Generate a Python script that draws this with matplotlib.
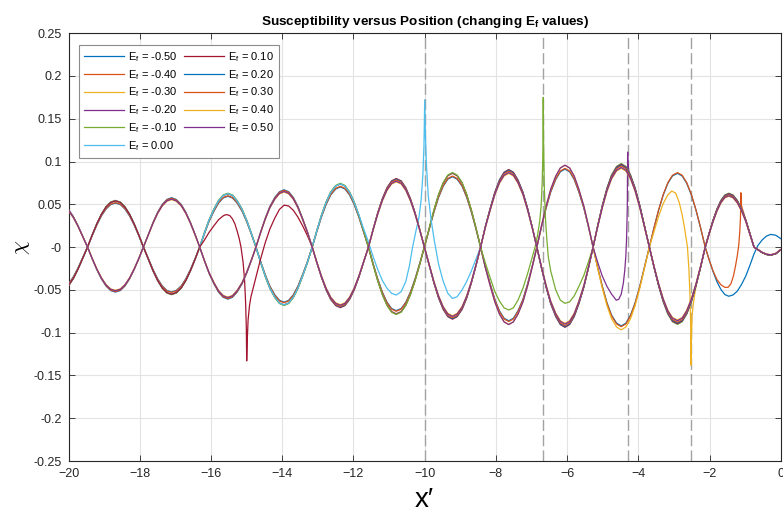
import numpy as np
import matplotlib.pyplot as plt
from matplotlib.ticker import FuncFormatter

plt.rcParams['font.family'] = ['Liberation Sans', 'DejaVu Sans']
plt.rcParams['mathtext.fontset'] = 'custom'
plt.rcParams['mathtext.rm'] = 'Liberation Sans'
plt.rcParams['mathtext.it'] = 'Liberation Sans:italic'
plt.rcParams['mathtext.bf'] = 'Liberation Sans:bold'

# Fermi energies, one curve each
ef_labels = ['-0.50', '-0.40', '-0.30', '-0.20', '-0.10', '0.00',
             '0.10', '0.20', '0.30', '0.40', '0.50']
colors = ['#0072BD', '#D95319', '#EDB120', '#7E2F8E', '#77AC30', '#4DBEEE',
          '#A2142F', '#0072BD', '#D95319', '#EDB120', '#7E2F8E']
# relative amplitude of each curve inside its branch
amp = [0.99, 1.0, 1.04, 1.04, 1.05, 1.04, 1.04, 1.03, 1.02, 0.99, 1.0]

# sampled positions x'
x_grid = [-20.00, -19.87, -19.74, -19.61,
          -19.47, -19.34, -19.21, -19.08, -18.95, -18.82, -18.69, -18.55, -18.42, -18.29, -18.16, -18.03,
          -17.90, -17.76, -17.63, -17.50, -17.37, -17.24, -17.11, -16.98, -16.84, -16.71, -16.58, -16.45,
          -16.32, -16.19, -16.06, -15.92, -15.79, -15.66, -15.53, -15.40, -15.27, -15.13, -15.00, -14.87,
          -14.74, -14.61, -14.48, -14.35, -14.21, -14.08, -13.95, -13.82, -13.69, -13.56, -13.43, -13.29,
          -13.16, -13.03, -12.90, -12.77, -12.64, -12.50, -12.37, -12.24, -12.11, -11.98, -11.85, -11.72,
          -11.58, -11.45, -11.32, -11.19, -11.06, -10.93, -10.80, -10.66, -10.53, -10.40, -10.27, -10.14,
          -10.01, -9.87, -9.74, -9.61, -9.48, -9.35, -9.22, -9.09, -8.95, -8.82, -8.69, -8.56,
          -8.43, -8.30, -8.16, -8.03, -7.90, -7.77, -7.64, -7.51, -7.38, -7.24, -7.11, -6.98,
          -6.85, -6.72, -6.59, -6.46, -6.32, -6.19, -6.06, -5.93, -5.80, -5.67, -5.53, -5.40,
          -5.27, -5.14, -5.01, -4.88, -4.75, -4.61, -4.48, -4.35, -4.22, -4.09, -3.96, -3.83,
          -3.69, -3.56, -3.43, -3.30, -3.17, -3.04, -2.90, -2.77, -2.64, -2.51, -2.38, -2.25,
          -2.12,
          -2.01, -1.90, -1.79, -1.68, -1.57, -1.46, -1.34, -1.22, -1.10, -0.98, -0.87, -0.75,
          -0.64, -0.52, -0.40, -0.28, -0.14, 0.00]

# branch on the right of the singular point
chi_after = [0.0425, 0.0347, 0.0245, 0.0127,
             0.0, -0.0132, -0.0255, -0.0361, -0.0442, -0.0493, -0.051, -0.0493, -0.0442, -0.0361, -0.0255, -0.0132,
             0.0, 0.0145, 0.028, 0.0396, 0.0485, 0.0541, 0.056, 0.0541, 0.0485, 0.0396, 0.028, 0.0145,
             0.0, -0.0153, -0.0295, -0.0417, -0.0511, -0.057, -0.059, -0.057, -0.0511, -0.0417, -0.0295, -0.0153,
             0.0, 0.0168, 0.0325, 0.046, 0.0563, 0.0628, 0.065, 0.0628, 0.0563, 0.046, 0.0325, 0.0168,
             0.0, -0.0176, -0.034, -0.0481, -0.0589, -0.0657, -0.068, -0.0657, -0.0589, -0.0481, -0.034, -0.0176,
             0.0, 0.0199, 0.0385, 0.0544, 0.0667, 0.0744, 0.077, 0.0744, 0.0667, 0.0544, 0.0385, 0.0199,
             0.0, -0.021, -0.0405, -0.0573, -0.0701, -0.0782, -0.081, -0.0782, -0.0701, -0.0573, -0.0405, -0.021,
             0.0, 0.0225, 0.0435, 0.0615, 0.0753, 0.084, 0.087, 0.084, 0.0753, 0.0615, 0.0435, 0.0225,
             0.0, -0.0233, -0.045, -0.0636, -0.0779, -0.0869, -0.090, -0.0869, -0.0779, -0.0636, -0.045, -0.0233,
             0.0, 0.0241, 0.0465, 0.0658, 0.0805, 0.0898, 0.093, 0.0898, 0.0805, 0.0658, 0.0465, 0.0241,
             0.0, -0.0223, -0.043, -0.0608, -0.0745, -0.0831, -0.086, -0.0831, -0.0745, -0.0608, -0.043, -0.0223,
             0.0,
             0.0155, 0.030, 0.0424, 0.052, 0.058, 0.060, 0.058, 0.052, 0.0424, 0.030, 0.0155, 0.0,
             -0.003, -0.0062, -0.0083, -0.009, -0.0075, -0.003]

# branch on the left of the singular point
chi_before = [-0.043, -0.0352, -0.0249, -0.0129,
              0.0, 0.0135, 0.026, 0.0368, 0.045, 0.0502, 0.052, 0.0502, 0.045, 0.0368, 0.026, 0.0135,
              0.0, -0.0137, -0.0265, -0.0375, -0.0459, -0.0512, -0.053, -0.0512, -0.0459, -0.0375, -0.0265, -0.0137,
              0.0, 0.0155, 0.030, 0.0424, 0.052, 0.058, 0.060, 0.058, 0.052, 0.0424, 0.030, 0.0155,
              0.0, -0.0168, -0.0325, -0.046, -0.0563, -0.0628, -0.065, -0.0628, -0.0563, -0.046, -0.0325, -0.0168,
              0.0, 0.0184, 0.0355, 0.0502, 0.0615, 0.0686, 0.071, 0.0686, 0.0615, 0.0502, 0.0355, 0.0184,
              0.0, -0.0194, -0.0375, -0.053, -0.065, -0.0725, -0.075, -0.0725, -0.065, -0.053, -0.0375, -0.0194,
              0.0, 0.0215, 0.0415, 0.0587, 0.0719, 0.0802, 0.083, 0.0802, 0.0719, 0.0587, 0.0415, 0.0215,
              0.0, -0.0225, -0.0435, -0.0615, -0.0753, -0.084, -0.087, -0.084, -0.0753, -0.0615, -0.0435, -0.0225,
              0.0, 0.0238, 0.046, 0.065, 0.0797, 0.0889, 0.092, 0.0889, 0.0797, 0.065, 0.046, 0.0238,
              0.0, -0.0241, -0.0465, -0.0658, -0.0805, -0.0898, -0.093, -0.0898, -0.0805, -0.0658, -0.0465, -0.0241,
              0.0, 0.0225, 0.0435, 0.0615, 0.0753, 0.084, 0.087, 0.084, 0.0753, 0.0615, 0.0435, 0.0225,
              0.0,
              -0.015, -0.029, -0.041, -0.050, -0.056, -0.058, -0.0565, -0.052, -0.044, -0.034, -0.022, -0.008,
              0.002, 0.0085, 0.013, 0.015, 0.014, 0.010]

# samples around each singular point
near_x = {
    '0.10': [-16.32, -16.19, -16.06, -15.92, -15.79, -15.66, -15.58, -15.48, -15.40, -15.33,
             -15.27, -15.21, -15.16, -15.10, -15.06, -15.03, -15.01, -15.00, -14.98, -14.96,
             -14.92, -14.88, -14.80, -14.69, -14.61, -14.48, -14.35, -14.21, -14.08, -13.95,
             -13.82, -13.69, -13.56, -13.43, -13.29, -13.16],
    '0.00': [-11.85, -11.72, -11.58, -11.45, -11.32, -11.19, -11.06, -10.93, -10.80, -10.66,
             -10.53, -10.43, -10.34, -10.25, -10.16, -10.10, -10.05, -10.02, -10.00, -9.98,
             -9.95, -9.90, -9.82, -9.74, -9.61, -9.48, -9.35, -9.22, -9.09, -8.95,
             -8.82, -8.69, -8.56, -8.43],
    '-0.10': [-8.43, -8.30, -8.16, -8.03, -7.90, -7.77, -7.64, -7.51, -7.38, -7.24,
              -7.11, -6.98, -6.90, -6.83, -6.77, -6.73, -6.70, -6.68, -6.67, -6.66,
              -6.64, -6.61, -6.58, -6.53, -6.46, -6.32, -6.19, -6.06, -5.93, -5.80,
              -5.67, -5.53, -5.40, -5.27],
    '-0.20': [-5.27, -5.14, -5.01, -4.88, -4.75, -4.62, -4.55, -4.48, -4.42, -4.38,
              -4.35, -4.33, -4.31, -4.30, -4.29, -4.27, -4.22],
    '-0.30': [-3.69, -3.56, -3.43, -3.30, -3.17, -3.06, -2.95, -2.85, -2.77, -2.70,
              -2.65, -2.62, -2.58, -2.55, -2.53, -2.52, -2.51, -2.49, -2.46, -2.42, -2.38],
    '-0.40': [-2.12, -2.01, -1.90, -1.79, -1.68, -1.57, -1.48, -1.40, -1.33, -1.27,
              -1.22, -1.18, -1.15, -1.13, -1.12, -1.11, -1.08, -1.04, -0.98],
}
near_y = {
    '0.10': [0.0, 0.008, 0.017, 0.025, 0.032, 0.0365, 0.038, 0.037, 0.033, 0.027,
             0.019, 0.010, 0.0, -0.018, -0.038, -0.065, -0.095, -0.133, -0.105, -0.085,
             -0.068, -0.058, -0.045, -0.027, -0.014, 0.005, 0.021, 0.034, 0.044, 0.049,
             0.048, 0.043, 0.035, 0.025, 0.013, 0.0],
    '0.00': [0.038, 0.022, 0.006, -0.011, -0.026, -0.039, -0.048, -0.054, -0.056, -0.052,
             -0.040, -0.022, 0.0, 0.018, 0.035, 0.055, 0.085, 0.12, 0.172, 0.13,
             0.095, 0.060, 0.032, 0.010, -0.020, -0.040, -0.054, -0.060, -0.058, -0.050,
             -0.040, -0.028, -0.014, 0.0],
    '-0.10': [0.0, -0.018, -0.036, -0.052, -0.063, -0.071, -0.0735, -0.071, -0.062, -0.048,
              -0.031, -0.012, 0.0, 0.014, 0.030, 0.048, 0.075, 0.11, 0.175, 0.12,
              0.07, 0.035, 0.015, -0.011, -0.028, -0.050, -0.062, -0.0657, -0.064, -0.057,
              -0.046, -0.033, -0.017, 0.0],
    '-0.20': [0.0, -0.018, -0.034, -0.046, -0.055, -0.062, -0.061, -0.055, -0.042, -0.027,
              -0.010, 0.010, 0.045, 0.111, 0.098, 0.090, 0.082],
    '-0.30': [0.0, 0.018, 0.036, 0.051, 0.061, 0.0655, 0.063, 0.052, 0.038, 0.022,
              0.008, 0.0, -0.025, -0.055, -0.09, -0.138, -0.11, -0.080, -0.068, -0.056, -0.046],
    '-0.40': [0.0, -0.015, -0.028, -0.038, -0.044, -0.047, -0.047, -0.043, -0.034, -0.022,
              -0.010, 0.002, 0.018, 0.035, 0.0635, 0.050, 0.045, 0.040, 0.031],
}

# dashed markers
x_marks = [-10.0, -6.67, -4.30, -2.52]

fig = plt.figure(figsize=(7.83, 5.19), dpi=100)
ax = fig.add_axes([0.0877, 0.1116, 0.9094, 0.8246])

xg = np.array(x_grid)
for i, lab in enumerate(ef_labels):
    a = np.array(chi_after) * amp[i]
    b = np.array(chi_before) * amp[i]
    if lab in near_x:
        sx = np.array(near_x[lab])
        sy = np.array(near_y[lab])
        m1 = xg < sx[0]
        m2 = xg > sx[-1]
        x = np.concatenate([xg[m1], sx, xg[m2]])
        y = np.concatenate([b[m1], sy, a[m2]])
    elif lab == '-0.50':
        x, y = xg, b
    else:
        x, y = xg, a
    ax.plot(x, y, color=colors[i], lw=0.9, label='E$_\\mathrm{f}$ = ' + lab, zorder=3)

for xm in x_marks:
    ax.axvline(xm, color='#a3a3a3', lw=1.0, ls=(0, (8, 3)), zorder=2.5)

ax.set_xlim(-20, 0)
ax.set_ylim(-0.25, 0.25)
ax.set_xticks(np.arange(-20, 1, 2))
ax.set_yticks(np.arange(-0.25, 0.26, 0.05))
ax.yaxis.set_major_formatter(FuncFormatter(lambda v, p: '%g' % round(v, 2)))
ax.grid(True, color='#e3e3e3', lw=0.8)
ax.set_axisbelow(True)
ax.tick_params(direction='in', top=True, right=True, length=4, width=0.6,
               labelsize=9, colors='#262626', pad=5)
for s in ax.spines.values():
    s.set_color('#262626')
    s.set_linewidth(0.8)

ax.set_title('Susceptibility versus Position (changing E$_\\mathbf{f}$ values)',
             fontsize=9.7, fontweight='bold', pad=6)
ax.set_xlabel('x\u2032', fontsize=20, labelpad=5)
ax.set_ylabel('$\\chi$', fontsize=16, math_fontfamily='cm', labelpad=1)

leg = ax.legend(loc='upper left', bbox_to_anchor=(0.0145, 0.972), ncol=2, fontsize=8,
                handlelength=3.6, handletextpad=0.4, columnspacing=0.5, labelspacing=0.36,
                borderpad=0.45, borderaxespad=0, fancybox=False, framealpha=1)
leg.get_frame().set_edgecolor('#8c8c8c')
leg.get_frame().set_linewidth(0.8)

fig.savefig('out.png', dpi=100)
